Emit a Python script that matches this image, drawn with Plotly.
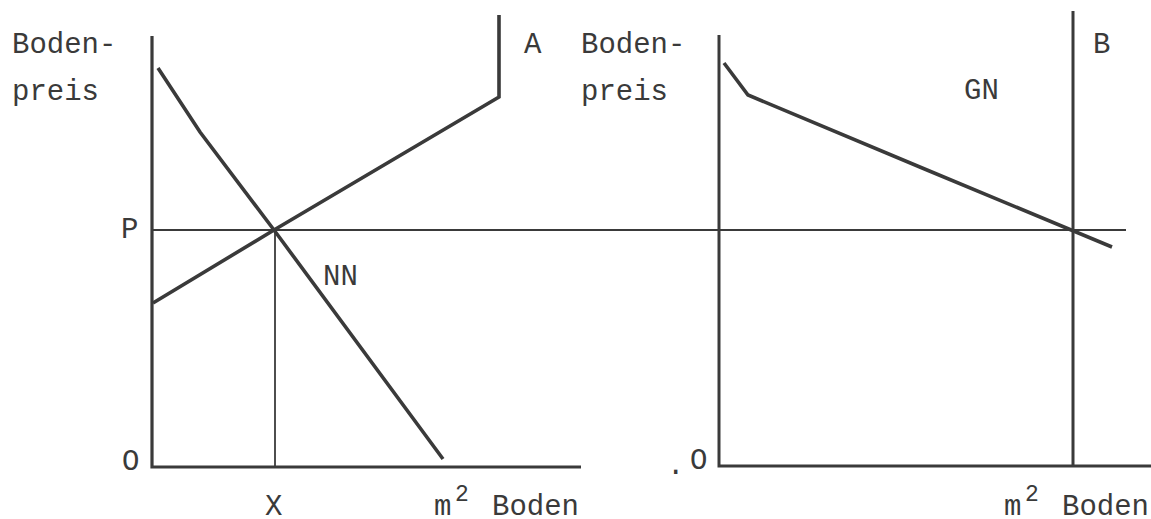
import plotly.graph_objects as go

# ---- data (diagram coordinates: x from left, y from bottom) ----
left_axes_x = [152, 152, 581]
left_axes_y = [483, 52, 52]
right_axes_x = [719, 719, 1151]
right_axes_y = [484, 53, 53]

price_line_x = [152, 1126]
price_line_y = [289, 289]

x_line_x = [275, 275]
x_line_y = [289, 52]

nn_x = [158, 200, 274, 443]
nn_y = [451, 387, 289, 60]

supply_a_x = [153, 274, 499, 499]
supply_a_y = [216, 289, 422, 504]

gn_x = [724, 748, 927, 1073, 1112]
gn_y = [456, 424, 349, 289, 272]

b_line_x = [1073, 1073]
b_line_y = [508, 53]

label_text = ["Boden-", "preis", "A", "Boden-", "preis", "B", "GN", "P", "NN",
              "O", "O", "."]
label_x = [10, 10, 522, 579, 579, 1091, 962, 119, 321, 120, 688, 665]
label_y = [474, 427, 474, 474, 427, 474, 428, 289, 242, 57, 58, 53]

bottom_text = ["X", "m", "Boden", "m", "Boden"]
bottom_x = [264, 433, 491, 1003, 1061]
bottom_y = [12, 12, 12, 12, 12]

exp_text = ["2", "2"]
exp_x = [454, 1024]
exp_y = [24, 24]

INK = "#3a3a3a"
FONT = "Liberation Mono, Courier New, monospace"
FS = 29

fig = go.Figure()

def seg(xs, ys, w):
    fig.add_trace(go.Scatter(x=xs, y=ys, mode="lines",
                             line=dict(color=INK, width=w),
                             hoverinfo="skip", showlegend=False))

seg(left_axes_x, left_axes_y, 3.2)
seg(right_axes_x, right_axes_y, 3.0)
seg(price_line_x, price_line_y, 1.8)
seg(x_line_x, x_line_y, 1.8)
seg(nn_x, nn_y, 3.6)
seg(supply_a_x, supply_a_y, 3.6)
seg(gn_x, gn_y, 3.6)
seg(b_line_x, b_line_y, 3.0)

for t, x, y in zip(label_text, label_x, label_y):
    fig.add_annotation(x=x, y=y, text=t, showarrow=False,
                       xanchor="left", yanchor="middle",
                       font=dict(family=FONT, size=FS, color=INK))

for t, x, y in zip(bottom_text, bottom_x, bottom_y):
    fig.add_annotation(x=x, y=y, text=t, showarrow=False,
                       xanchor="left", yanchor="middle", borderpad=0,
                       font=dict(family=FONT, size=FS, color=INK))

for t, x, y in zip(exp_text, exp_x, exp_y):
    fig.add_annotation(x=x, y=y, text=t, showarrow=False,
                       xanchor="left", yanchor="middle", borderpad=0,
                       font=dict(family=FONT, size=23, color=INK))

fig.update_layout(
    width=1151, height=519, autosize=False,
    margin=dict(l=0, r=0, t=0, b=0),
    paper_bgcolor="white", plot_bgcolor="white",
    xaxis=dict(range=[0, 1151], visible=False, fixedrange=True),
    yaxis=dict(range=[0, 519], visible=False, fixedrange=True),
)

fig.write_html("out.html", config={"displayModeBar": False},
               post_script="document.body.style.margin='0';document.body.style.overflow='hidden';")
